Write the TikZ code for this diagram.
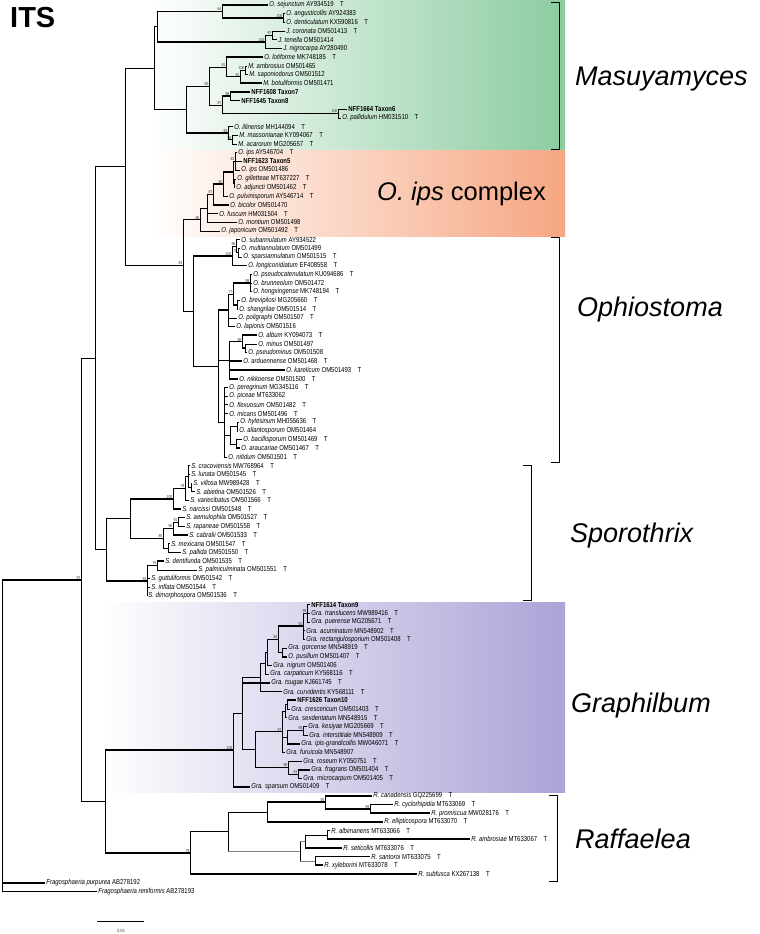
\documentclass[tikz,border=0pt]{standalone}
\usepackage{fontspec}
\setmainfont{Liberation Sans}
\newfontfamily\leaffont[FakeStretch=0.83]{Liberation Sans}
\usetikzlibrary{calc}

\definecolor{masgreen}{RGB}{140,204,160}
\definecolor{ipsorange}{RGB}{246,166,130}
\definecolor{grapurple}{RGB}{170,164,215}

\newcommand{\tmark}{\hspace{0.9em}T}
\newcommand{\yy}[1]{(#1*8.69-3.69)}
\newcommand{\leaf}[4]{\node[leaf] (#1) at (#3,{\yy{#2}}) {#4};}
\newcommand{\nd}[5][]{\path let \p1=(#4),\p2=(#5) in coordinate[#1] (#2) at (#3pt,{0.5*\y1+0.5*\y2});}
\newcommand{\br}[3][]{\draw[vln] (#2) -- (#2 |- #3); \draw[hln,#1] (#2 |- #3) -- (#3);}

\tikzset{
  leaf/.style={anchor=west, inner sep=1.2pt, font=\leaffont\fontsize{7.2}{8}\selectfont},
  bs/.style={font=\leaffont\fontsize{4.2}{4.5}\selectfont, inner sep=0.4pt, text=black!80},
  bsl/.style={label={[bs]above left:#1}},
  vln/.style={line width=0.6pt},
  hln/.style={line width=0.6pt},
  hb/.style={line width=1.7pt},
  clade/.style={anchor=base west, inner sep=0pt, font=\fontsize{27}{30}\selectfont\itshape},
  bracket/.style={line width=0.8pt},
}

\begin{document}
\begin{tikzpicture}[x=1pt,y=-1pt]
\useasboundingbox (0,0) rectangle (760,934);

% clade boxes
\shade[left color=white, right color=masgreen] (150,1) rectangle (565,149.5);
\shade[left color=white, right color=ipsorange] (150,150.5) rectangle (565,236);
\shade[left color=white, right color=grapurple] (100,602.5) rectangle (565,792);

% leaves
\leaf{sej}{1}{268}{\textit{O. sejunctum} AY934519\tmark}
\leaf{ang}{2}{285}{\textit{O. angusticollis} AY924383}
\leaf{den}{3}{285}{\textit{O. denticulatum} KX590816\tmark}
\leaf{cor}{4}{285}{\textit{J. coronata} OM501413\tmark}
\leaf{ten}{5}{277}{\textit{J. tenella} OM501414}
\leaf{nig}{6}{282}{\textit{J. nigrocarpa} AY280490}
\leaf{lot}{7}{263}{\textit{O. lotiforme} MK748185\tmark}
\leaf{amb}{8}{247}{\textit{M. ambrosius} OM501465}
\leaf{sap}{9}{248}{\textit{M. saponiodorus} OM501512}
\leaf{bot}{10}{262}{\textit{M. botuliformis} OM501471}
\leaf{tx7}{11}{250}{\textbf{NFF1608 Taxon7}}
\leaf{tx8}{12}{240}{\textbf{NFF1645 Taxon8}}
\leaf{tx6}{13}{347}{\textbf{NFF1664 Taxon6}}
\leaf{pal}{14}{341}{\textit{O. pallidulum} HM031510\tmark}
\leaf{ill}{15}{233}{\textit{O. illinense} MH144094\tmark}
\leaf{mas}{16}{238}{\textit{M. massonianae} KY094067\tmark}
\leaf{aca}{17}{237}{\textit{M. acarorum} MG205657\tmark}
\leaf{ipsa}{18}{237}{\textit{O. ips} AY546704\tmark}
\leaf{tx5}{19}{242}{\textbf{NFF1623 Taxon5}}
\leaf{ipsb}{20}{240}{\textit{O. ips} OM501486}
\leaf{gil}{21}{236}{\textit{O. gilletteae} MT637227\tmark}
\leaf{adj}{22}{235}{\textit{O. adjuncti} OM501462\tmark}
\leaf{pul}{23}{228}{\textit{O. pulvinisporum} AY546714\tmark}
\leaf{bic}{24}{229}{\textit{O. bicolor} OM501470}
\leaf{fus}{25}{218}{\textit{O. fuscum} HM031504\tmark}
\leaf{mon}{26}{237}{\textit{O. montium} OM501498}
\leaf{jap}{27}{220}{\textit{O. japonicum} OM501492\tmark}
\leaf{sub}{28}{240}{\textit{O. subannulatum} AY934522}
\leaf{mul}{29}{240}{\textit{O. multiannulatum} OM501499}
\leaf{spa}{30}{242}{\textit{O. sparsiannulatum} OM501515\tmark}
\leaf{lon}{31}{247}{\textit{O. longiconidiatum} EF408558\tmark}
\leaf{psc}{32}{252}{\textit{O. pseudocatenulatum} KU094686\tmark}
\leaf{bru}{33}{252}{\textit{O. brunneolum} OM501472}
\leaf{hon}{34}{252}{\textit{O. hongxingense} MK748194\tmark}
\leaf{bre}{35}{240}{\textit{O. brevipilosi} MG205660\tmark}
\leaf{sha}{36}{238}{\textit{O. shangrilae} OM501514\tmark}
\leaf{pol}{37}{237}{\textit{O. poligraphi} OM501507\tmark}
\leaf{lap}{38}{235}{\textit{O. lapionis} OM501516}
\leaf{alb}{39}{257}{\textit{O. album} KY094073\tmark}
\leaf{min}{40}{257}{\textit{O. minus} OM501497}
\leaf{psm}{41}{247}{\textit{O. pseudominus} OM501508}
\leaf{ard}{42}{242}{\textit{O. arduennense} OM501468\tmark}
\leaf{kar}{43}{285}{\textit{O. karelicum} OM501493\tmark}
\leaf{nik}{44}{238}{\textit{O. nikkoense} OM501500\tmark}
\leaf{per}{45}{228}{\textit{O. peregrinum} MG345116\tmark}
\leaf{pic}{46}{228}{\textit{O. piceae} MT633062}
\leaf{fle}{47}{228}{\textit{O. flexuosum} OM501482\tmark}
\leaf{mic}{48}{228}{\textit{O. micans} OM501496\tmark}
\leaf{hyl}{49}{239}{\textit{O. hylesinum} MH055636\tmark}
\leaf{all}{50}{238}{\textit{O. allantosporum} OM501464}
\leaf{bac}{51}{242}{\textit{O. bacillisporum} OM501469\tmark}
\leaf{ara}{52}{240}{\textit{O. araucariae} OM501467\tmark}
\leaf{nit}{53}{227}{\textit{O. nitidum} OM501501\tmark}
\leaf{cra}{54}{190}{\textit{S. cracoviensis} MW768964\tmark}
\leaf{lun}{55}{190}{\textit{S. lunata} OM501545\tmark}
\leaf{vil}{56}{192}{\textit{S. villosa} MW989428\tmark}
\leaf{abi}{57}{195}{\textit{S. abietina} OM501526\tmark}
\leaf{var}{58}{189}{\textit{S. variecibatus} OM501566\tmark}
\leaf{nar}{59}{181}{\textit{S. narcissi} OM501548\tmark}
\leaf{aem}{60}{185}{\textit{S. aemulophila} OM501527\tmark}
\leaf{rap}{61}{185}{\textit{S. rapaneae} OM501558\tmark}
\leaf{cab}{62}{188}{\textit{S. cabralii} OM501533\tmark}
\leaf{mex}{63}{170}{\textit{S. mexicana} OM501547\tmark}
\leaf{pall}{64}{181}{\textit{S. pallida} OM501550\tmark}
\leaf{dnt}{65}{164}{\textit{S. dentifunda} OM501535\tmark}
\leaf{pam}{66}{197}{\textit{S. palmiculminata} OM501551\tmark}
\leaf{gut}{67}{150}{\textit{S. guttuliformis} OM501542\tmark}
\leaf{inf}{68}{150}{\textit{S. inflata} OM501544\tmark}
\leaf{dim}{69}{147}{\textit{S. dimorphospora} OM501536\tmark}
\leaf{tx9}{70}{310}{\textbf{NFF1614 Taxon9}}
\leaf{tra}{71}{310}{\textit{Gra. translucens} MW989416\tmark}
\leaf{pue}{72}{310}{\textit{Gra. puerense} MG205671\tmark}
\leaf{acu}{73}{305}{\textit{Gra. acuminatum} MN548902\tmark}
\leaf{rec}{74}{305}{\textit{Gra. rectangulosporium} OM501408\tmark}
\leaf{gor}{75}{287}{\textit{Gra. gorcense} MN548919\tmark}
\leaf{pus}{76}{287}{\textit{O. pusillum} OM501407\tmark}
\leaf{ngr}{77}{272}{\textit{Gra. nigrum} OM501406}
\leaf{car}{78}{269}{\textit{Gra. carpaticum} KY568116\tmark}
\leaf{tsu}{79}{270}{\textit{Gra. tsugae} KJ661745\tmark}
\leaf{cur}{80}{282}{\textit{Gra. curvidentis} KY568111\tmark}
\leaf{tx10}{81}{296}{\textbf{NFF1626 Taxon10}}
\leaf{cre}{82}{290}{\textit{Gra. crescericum} OM501403\tmark}
\leaf{sex}{83}{287}{\textit{Gra. sexdentatum} MN548915\tmark}
\leaf{kes}{84}{307}{\textit{Gra. kesiyae} MG205669\tmark}
\leaf{int}{85}{308}{\textit{Gra. interstitiale} MN548909\tmark}
\leaf{ipg}{86}{300}{\textit{Gra. ipis-grandicollis} MW046071\tmark}
\leaf{fur}{87}{285}{\textit{Gra. furuicola} MN548907}
\leaf{ros}{88}{302}{\textit{Gra. roseum} KY050751\tmark}
\leaf{fra}{89}{310}{\textit{Gra. fragrans} OM501404\tmark}
\leaf{mcp}{90}{302}{\textit{Gra. microcarpum} OM501405\tmark}
\leaf{sps}{91}{250}{\textit{Gra. sparsum} OM501409\tmark}
\leaf{can}{92}{372}{\textit{R. canadensis} GQ225699\tmark}
\leaf{cyc}{93}{393}{\textit{R. cyclorhipidia} MT633069\tmark}
\leaf{pro}{94}{430}{\textit{R. promiscua} MW028176\tmark}
\leaf{ell}{95}{383}{\textit{R. ellipticospora} MT633070\tmark}
\leaf{alm}{96}{330}{\textit{R. albimanens} MT633066\tmark}
\leaf{amr}{97}{470}{\textit{R. ambrosiae} MT633067\tmark}
\leaf{set}{98}{342}{\textit{R. seticollis} MT633076\tmark}
\leaf{san}{99}{370}{\textit{R. santoroi} MT633075\tmark}
\leaf{xyl}{100}{323}{\textit{R. xyleborini} MT633078\tmark}
\leaf{sbf}{101}{417}{\textit{R. subfusca} KX267138\tmark}
\leaf{fpu}{102}{45}{\textit{Fragosphaeria purpurea} AB278192}
\leaf{fre}{103}{97}{\textit{Fragosphaeria reniformis} AB278193}

% Masuyamyces
\nd[bsl=100]{a2}{283}{ang}{den}
\nd[bsl=64]{a1}{222}{sej}{a2}
\nd[bsl=97]{a4}{272}{cor}{ten}
\nd[bsl=100]{a3}{265}{a4}{nig}
\nd{a0}{157}{a1}{a3}
\nd[bsl=100]{c3}{245}{amb}{sap}
\nd[bsl=91]{c2}{240}{c3}{bot}
\nd[bsl=91]{c1}{226}{lot}{c2}
\nd[bsl=96]{b1}{230}{tx7}{tx8}
\nd[bsl=100]{b2}{338}{tx6}{pal}
\nd[bsl=87]{b0}{222}{b1}{b2}
\nd[bsl=92]{c0}{209}{c1}{b0}
\nd[bsl=90]{d2}{232}{mas}{aca}
\nd[bsl=83]{d1}{228}{ill}{d2}
\nd{d0}{186}{c0}{d1}
\nd{m1}{154}{a0}{d0}
\br{a2}{ang} \br[hb]{a2}{den}
\br[hb]{a1}{sej} \br[hb]{a1}{a2}
\br{a4}{cor} \br{a4}{ten}
\br{a3}{a4} \br[hb]{a3}{nig}
\br[hb]{a0}{a1} \br[hb]{a0}{a3}
\br{c3}{amb} \br{c3}{sap}
\br{c2}{c3} \br[hb]{c2}{bot}
\br[hb]{c1}{lot} \br{c1}{c2}
\br[hb]{b1}{tx7} \br{b1}{tx8}
\br{b2}{tx6} \br{b2}{pal}
\br[hb]{b0}{b1} \br[hb]{b0}{b2}
\br{c0}{c1} \br{c0}{b0}
\br{d2}{mas} \br{d2}{aca}
\br{d1}{ill} \br{d1}{d2}
\br{d0}{c0} \br[hb]{d0}{d1}
\br{m1}{a0} \br{m1}{d0}

% O. ips complex
\nd[bsl=83]{e1}{235}{ipsa}{ipsb}
\nd{e2b}{234}{gil}{adj}
\nd{e2}{233}{e1}{e2b}
\nd[bsl=80]{e3}{223}{e2}{pul}
\nd[bsl=87]{e4}{213}{e3}{bic}
\nd{e5}{207}{e4}{mon}
\nd[bsl=86]{e6}{200}{e5}{jap}
\br{e1}{ipsa} \br{e1}{tx5} \br{e1}{ipsb}
\br{e2b}{gil} \br{e2b}{adj}
\br{e2}{e1} \br{e2}{e2b}
\br[hb]{e3}{e2} \br{e3}{pul}
\br[hb]{e4}{e3} \br[hb]{e4}{bic}
\br{e5}{e4} \br[hb]{e5}{fus} \br{e5}{mon}
\br[hb]{e6}{e5} \br{e6}{jap}

% Ophiostoma
\nd[bsl=79]{k2}{238}{mul}{spa}
\nd[bsl=98]{k1}{236}{sub}{k2}
\nd[bsl=100]{k0}{232}{k1}{lon}
\nd[bsl=99]{i1}{250}{psc}{hon}
\nd{i2}{237}{bre}{sha}
\nd[bsl=77]{i3}{233}{i1}{i2}
\nd{i4}{228}{i3}{lap}
\nd{j1b}{245}{min}{psm}
\nd[bsl=98]{j1}{242}{alb}{j1b}
\nd{j2}{229}{j1}{nik}
\nd{j5}{237}{hyl}{all}
\nd{j6}{236}{bac}{ara}
\nd{j4}{230}{j5}{j6}
\nd{j3}{224}{per}{nit}
\nd{i5}{218}{i4}{j3}
\nd{h0}{193}{k0}{i5}
\nd[bsl=83]{g0}{183}{e6}{h0}
\br{k2}{mul} \br{k2}{spa}
\br{k1}{sub} \br{k1}{k2}
\br{k0}{k1} \br{k0}{lon}
\br{i1}{psc} \br{i1}{bru} \br{i1}{hon}
\br[hb]{i2}{bre} \br{i2}{sha}
\br[hb]{i3}{i1} \br[hb]{i3}{i2}
\br{i4}{i3} \br{i4}{pol} \br{i4}{lap}
\br{j1b}{min} \br{j1b}{psm}
\br[hb]{j1}{alb} \br[hb]{j1}{j1b}
\br{j2}{j1} \br[hb]{j2}{ard} \br[hb]{j2}{kar} \br[hb]{j2}{nik}
\br{j5}{hyl} \br{j5}{all}
\br[hb]{j6}{bac} \br[hb]{j6}{ara}
\br{j4}{j5} \br{j4}{j6}
\br{j3}{per} \br{j3}{pic} \br{j3}{fle} \br{j3}{mic} \br{j3}{j4} \br{j3}{nit}
\br[hb]{i5}{i4} \br{i5}{j2} \br{i5}{j3}
\br[hb]{h0}{k0} \br{h0}{i5}
\br{g0}{e6} \br{g0}{h0}

% Sporothrix
\nd{s2}{191}{vil}{abi}
\nd{s1}{188}{cra}{s2}
\nd[bsl=79]{s3}{185}{s1}{var}
\nd[bsl=100]{s4}{173}{s3}{nar}
\nd[bsl=91]{s5}{178}{aem}{rap}
\nd[bsl=96]{s6}{173}{s5}{cab}
\nd{s7}{168}{mex}{pall}
\nd[bsl=85]{s8}{163}{s6}{s7}
\nd[bsl=75]{s9}{157}{dnt}{pam}
\nd[bsl=92]{s10}{147}{s9}{dim}
\nd{sp1}{130}{s4}{s8}
\nd{sp0}{106}{sp1}{s10}
\br{s2}{vil} \br{s2}{abi}
\br{s1}{cra} \br{s1}{lun} \br{s1}{s2}
\br{s3}{s1} \br{s3}{var}
\br{s4}{s3} \br[hb]{s4}{nar}
\br{s5}{aem} \br{s5}{rap}
\br{s6}{s5} \br[hb]{s6}{cab}
\br{s7}{mex} \br[hb]{s7}{pall}
\br{s8}{s6} \br{s8}{s7}
\br[hb]{s9}{dnt} \br{s9}{pam}
\br{s10}{s9} \br{s10}{gut} \br{s10}{inf} \br{s10}{dim}
\br[hb]{sp1}{s4} \br[hb]{sp1}{s8}
\br{sp0}{sp1} \br[hb]{sp0}{s10}

% backbone of the upper part
\nd{v0}{125}{m1}{g0}
\nd{u0}{95}{v0}{sp0}
\br{v0}{m1} \br[hb]{v0}{g0}
\br{u0}{v0} \br{u0}{sp0}

% Graphilbum
\nd[bsl=89]{gA1}{307}{tx9}{pue}
\nd[bsl=91]{gA}{303}{gA1}{rec}
\nd{gB}{282}{gor}{pus}
\nd[bsl=82]{gC}{278}{gA}{gB}
\nd{gD}{267}{gC}{ngr}
\nd{gE}{265}{gD}{car}
\nd{gF}{260}{gE}{cur}
\nd{gI1}{287}{tx10}{cre}
\nd{gI}{285}{gI1}{sex}
\nd[bsl=99]{gJ1}{303}{kes}{int}
\nd{gJ}{287}{gJ1}{ipg}
\nd[bsl=87]{gK}{282}{gI}{fur}
\nd[bsl=81]{gL1}{298}{fra}{mcp}
\nd[bsl=98]{gL}{288}{ros}{gL1}
\nd{gM}{255}{gK}{gL}
\nd{gG}{242}{gF}{gM}
\nd[bsl=100]{gR}{233}{gG}{sps}
\br{gA1}{tx9} \br{gA1}{tra} \br{gA1}{pue}
\br{gA}{gA1} \br{gA}{acu} \br{gA}{rec}
\br{gB}{gor} \br[hb]{gB}{pus}
\br[hb]{gC}{gA} \br{gC}{gB}
\br{gD}{gC} \br[hb]{gD}{ngr}
\br{gE}{gD} \br{gE}{car}
\br{gF}{gE} \br[hb]{gF}{cur}
\br[hb]{gI1}{tx10} \br{gI1}{cre}
\br{gI}{gI1} \br{gI}{sex}
\br{gJ1}{kes} \br{gJ1}{int}
\br[hb]{gJ}{gJ1} \br[hb]{gJ}{ipg}
\br{gK}{gI} \br{gK}{gJ} \br{gK}{fur}
\br[hb]{gL1}{fra} \br{gL1}{mcp}
\br{gL}{ros} \br{gL}{gL1}
\br{gM}{gK} \br[hb]{gM}{gL}
\br{gG}{gF} \br[hb]{gG}{tsu} \br{gG}{gM}
\br{gR}{gG} \br[hb]{gR}{sps}

% Raffaelea
\nd[bsl=99]{r1}{370}{cyc}{pro}
\nd[bsl=85]{r2}{325}{can}{r1}
\nd{r3}{267}{r2}{ell}
\nd{r4}{327}{alm}{amr}
\nd{r5}{305}{r4}{set}
\nd{r6}{315}{san}{xyl}
\nd{r7}{300}{r5}{r6}
\nd{r8}{228}{r3}{r7}
\nd[bsl=79]{rR}{190}{r8}{sbf}
\br[hb]{r1}{cyc} \br[hb]{r1}{pro}
\br[hb]{r2}{can} \br[hb]{r2}{r1}
\br[hb]{r3}{r2} \br[hb]{r3}{ell}
\br{r4}{alm} \br[hb]{r4}{amr}
\br{r5}{r4} \br[hb]{r5}{set}
\br[hb]{r6}{san} \br[hb]{r6}{xyl}
\br[gray]{r7}{r5} \br[gray]{r7}{r6}
\br{r8}{r3} \br[gray]{r8}{r7}
\br{rR}{r8} \br[hb]{rR}{sbf}

% root
\nd{bb}{105}{gR}{rR}
\nd[bsl=97]{aa}{81}{u0}{bb}
\nd{root}{2}{aa}{fre}
\br[hb]{bb}{gR} \br[hb]{bb}{rR}
\br{aa}{u0} \br[hb]{aa}{bb}
\br[hb]{root}{aa} \br[hb]{root}{fpu} \br[hb]{root}{fre}

% brackets and clade names
\draw[bracket] (551,2) -- (559,2) -- (559,149) -- (551,149);
\draw[bracket] (551,237) -- (559,237) -- (559,462) -- (551,462);
\draw[bracket] (523,465) -- (531,465) -- (531,600) -- (523,600);
\draw[bracket] (549,795) -- (557,795) -- (557,881) -- (549,881);
\node[clade] (lmas) at (575,85) {Masuyamyces};
\node[clade, font=\fontsize{25.5}{28}\selectfont] (lips) at (377,200) {\textit{O. ips} complex};
\node[clade] (loph) at (577,316) {Ophiostoma};
\node[clade] (lspo) at (570,542) {Sporothrix};
\node[clade] (lgra) at (571,712) {Graphilbum};
\node[clade] (lraf) at (575,848) {Raffaelea};
\node[anchor=base west, inner sep=0pt, font=\fontsize{29}{30}\selectfont\bfseries] (its) at (10,28) {ITS};

% scale bar
\coordinate (sb1) at (97,921);
\coordinate (sb2) at (144,921);
\draw[line width=0.6pt] (sb1) -- (sb2);
\node[bs, font=\leaffont\fontsize{4.5}{5}\selectfont] (sblab) at (121,931) {0.05};
\end{tikzpicture}
\end{document}
